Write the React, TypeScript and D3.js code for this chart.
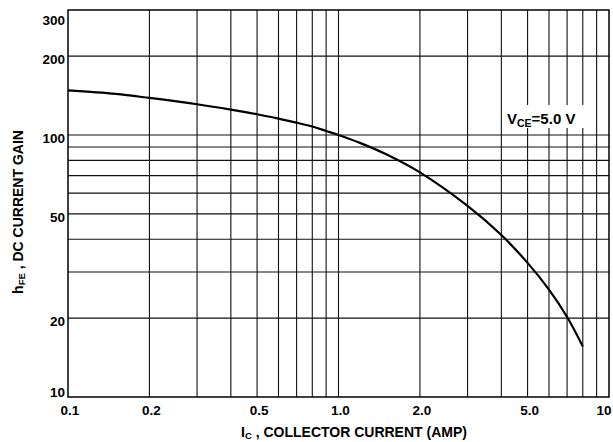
import React from "react";
import * as d3 from "d3";

const currentA = [0.1, 0.15, 0.2, 0.3, 0.4, 0.5, 0.6, 0.7, 0.8, 0.9, 1.0, 1.2, 1.5, 2.0, 3.0, 4.0, 5.0, 6.0, 7.0, 8.0];
const gain = [148, 143.5, 138.5, 131, 125, 120, 115.5, 111.5, 107.7, 103.6, 100, 93.3, 84.4, 72, 53.6, 41.5, 32.5, 25.7, 20.2, 15.6];

const xGrid = [0.2, 0.3, 0.4, 0.5, 0.6, 0.7, 0.8, 0.9, 1, 2, 3, 4, 5, 6, 7, 8, 9];
const yGrid = [20, 30, 40, 50, 60, 70, 80, 90, 100, 200];
const xTicks = [0.1, 0.2, 0.5, 1, 2, 5, 10];
const xTickLabels = ["0.1", "0.2", "0.5", "1.0", "2.0", "5.0", "10"];
const yTicks = [10, 20, 50, 100, 200, 300];
const yTickLabels = ["10", "20", "50", "100", "200", "300"];

const W = 613;
const H = 442;
const left = 68;
const right = 609;
const top = 10;
const bottom = 397;

export default function App() {
  const x = d3.scaleLog().domain([0.1, 10]).range([left, right]);
  const y = d3.scaleLog().domain([10, 300]).range([bottom, top]);
  const line = d3
    .line<number>()
    .x((_, i) => x(currentA[i]))
    .y((d) => y(d))
    .curve(d3.curveCatmullRom.alpha(0.5));
  const font = "'Liberation Sans', Arial, sans-serif";
  return (
    <svg
      width={W}
      height={H}
      style={{ position: "absolute", left: 0, top: 0, background: "#fff" }}
      fontFamily={font}
      fontWeight="bold"
    >
      <rect x={0} y={0} width={W} height={H} fill="#fff" />
      {xGrid.map((v) => (
        <line key={"xg" + v} x1={x(v)} x2={x(v)} y1={top} y2={bottom} stroke="#111" strokeWidth={1.1} />
      ))}
      {yGrid.map((v) => (
        <line key={"yg" + v} x1={left} x2={right} y1={y(v)} y2={y(v)} stroke="#111" strokeWidth={1.1} />
      ))}
      <rect x={left} y={top} width={right - left} height={bottom - top} fill="none" stroke="#000" strokeWidth={1.5} />
      <path d={line(gain) || ""} fill="none" stroke="#000" strokeWidth={2.2} />
      <rect x={504} y={105} width={80} height={23} fill="#fff" />
      <text x={507} y={124} fontSize={15} fill="#000">
        V
        <tspan fontSize={10.5} dy={3}>CE</tspan>
        <tspan dy={-3}>=5.0 V</tspan>
      </text>
      {yTicks.map((v, i) => {
        const cy = Math.min(392, Math.max(19.5, y(v) + 3));
        return (
          <text key={"yt" + v} x={65} y={cy + 5} fontSize={13.5} textAnchor="end" fill="#000">
            {yTickLabels[i]}
          </text>
        );
      })}
      {xTicks.map((v, i) => (
        <text
          key={"xt" + v}
          x={Math.min(x(v) + 2, 604)}
          y={415}
          fontSize={13.5}
          textAnchor="middle"
          fill="#000"
        >
          {xTickLabels[i]}
        </text>
      ))}
      <text x={241} y={437} fontSize={14} fill="#000">
        I
        <tspan fontSize={9.5} dy={2}>C</tspan>
        <tspan dy={-2}> , COLLECTOR CURRENT (AMP)</tspan>
      </text>
      <text transform="translate(23,212) rotate(-90)" fontSize={14} textAnchor="middle" fill="#000">
        h
        <tspan fontSize={9.5} dy={2}>FE</tspan>
        <tspan dy={-2}> , DC CURRENT GAIN</tspan>
      </text>
    </svg>
  );
}
